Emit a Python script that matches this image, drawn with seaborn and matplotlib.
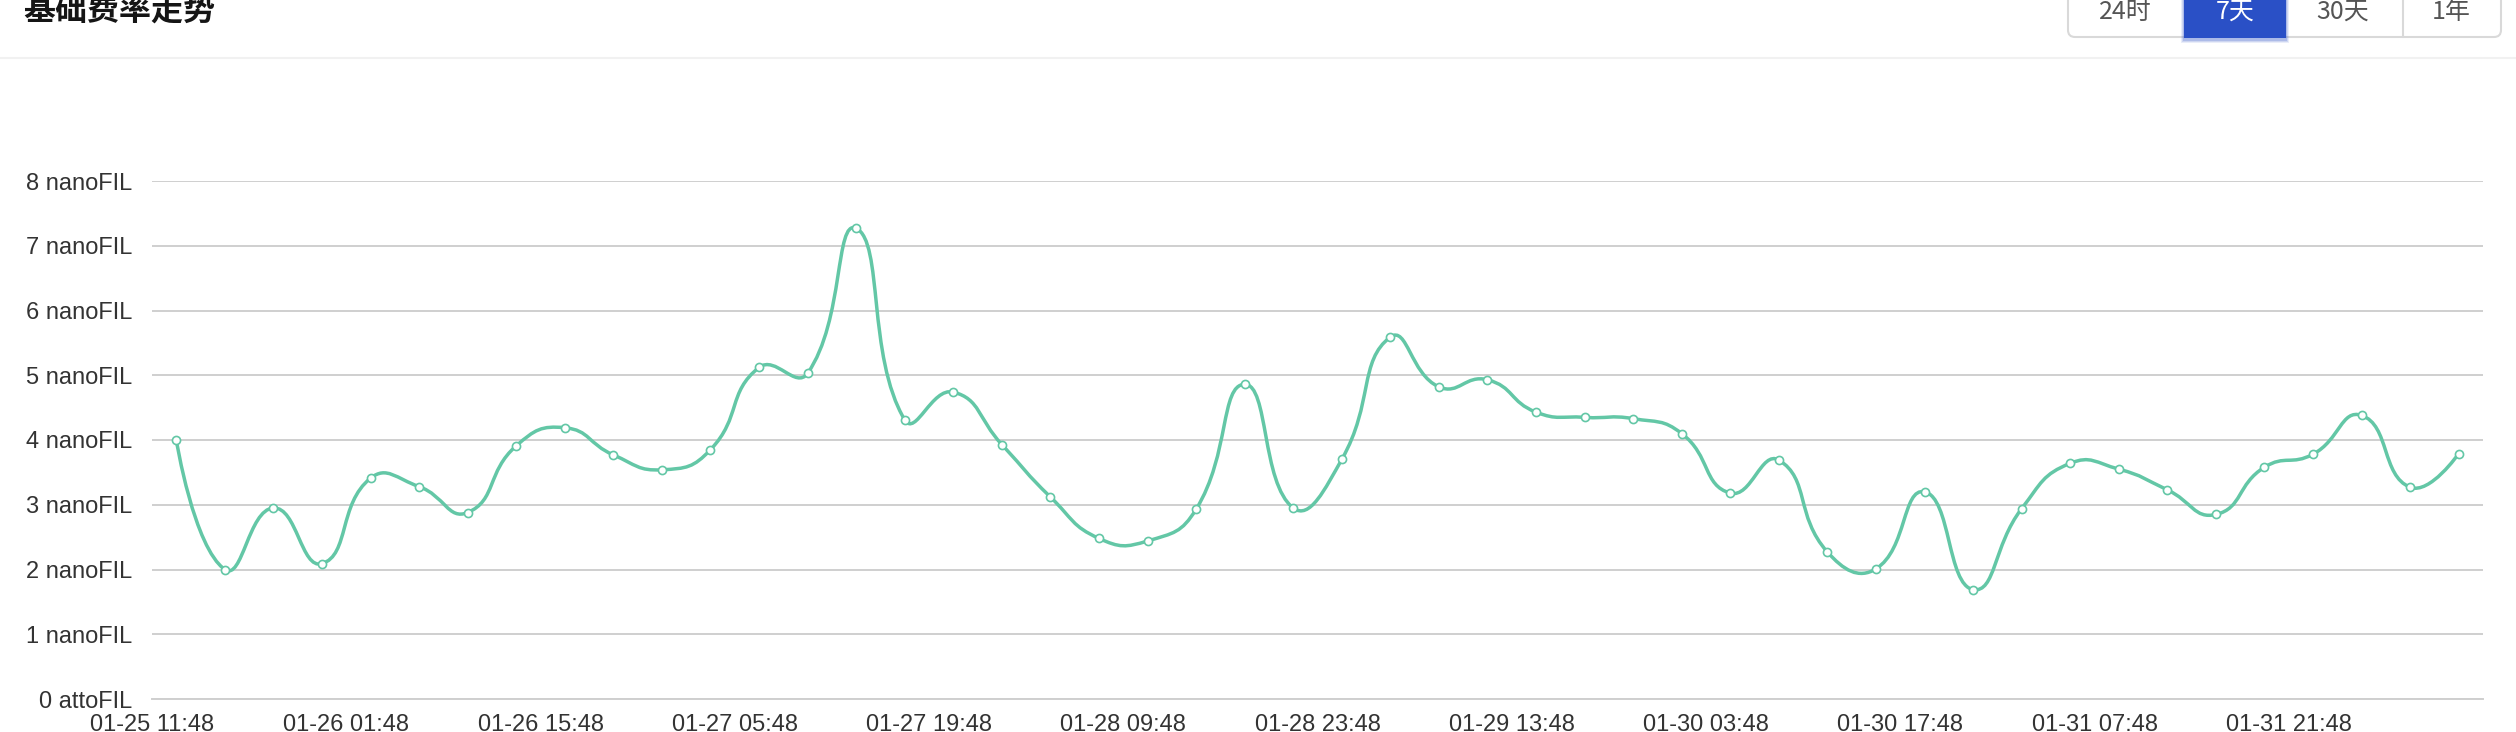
import numpy as np
import pandas as pd
import matplotlib
matplotlib.use("Agg")
import matplotlib.pyplot as plt
import seaborn as sns
from matplotlib.path import Path
from matplotlib.patches import PathPatch, FancyBboxPatch, Rectangle
from matplotlib.lines import Line2D
from matplotlib.transforms import IdentityTransform

# ---------------- data ----------------
title_text = "基础费率走势"
range_buttons = ["24时", "7天", "30天", "1年"]
active_button = "7天"

x_tick_labels = ["01-25 11:48", "01-26 01:48", "01-26 15:48", "01-27 05:48",
                 "01-27 19:48", "01-28 09:48", "01-28 23:48", "01-29 13:48",
                 "01-30 03:48", "01-30 17:48", "01-31 07:48", "01-31 21:48"]
y_tick_values = [0, 1, 2, 3, 4, 5, 6, 7, 8]
y_tick_labels = ["0 attoFIL", "1 nanoFIL", "2 nanoFIL", "3 nanoFIL", "4 nanoFIL",
                 "5 nanoFIL", "6 nanoFIL", "7 nanoFIL", "8 nanoFIL"]

# base fee (nanoFIL), one value every 3.5 hours
base_fee = [4.00, 2.00, 2.95, 2.09, 3.41, 3.28, 2.88, 3.91,
            4.19, 3.77, 3.54, 3.85, 5.12, 5.03, 7.27, 4.31,
            4.74, 3.93, 3.12, 2.48, 2.44, 2.93, 4.86, 2.95,
            3.70, 5.59, 4.82, 4.93, 4.43, 4.35, 4.33, 4.10,
            3.18, 3.69, 2.27, 2.01, 3.20, 1.69, 2.94, 3.64,
            3.55, 3.23, 2.85, 3.58, 3.78, 4.38, 3.27, 3.79]
step_hours = 3.5
tick_step_hours = 14

hours = (np.arange(len(base_fee)) + 0.5) * step_hours
df = pd.DataFrame({"hour": hours, "fee": base_fee})
total_hours = len(base_fee) * step_hours

# ---------------- style ----------------
W, H = 2516, 732
DPI = 100
GREEN = "#63c7a6"
BLUE = "#2a50c6"
GRID = "#cfcfcf"

sns.set_theme(style="white")
plt.rcParams["font.family"] = ["Liberation Sans", "Noto Sans CJK SC", "DejaVu Sans"]

fig = plt.figure(figsize=(W / DPI, H / DPI), dpi=DPI)
fig.patch.set_facecolor("white")

ax_left, ax_right, ax_top, ax_bottom = 152, 2483, 181, 699
ax = fig.add_axes([ax_left / W, (H - ax_bottom) / H,
                   (ax_right - ax_left) / W, (ax_bottom - ax_top) / H])
ax.set_xlim(0, total_hours)
ax.set_ylim(0, 8)

# smoothed line (ECharts-like bezier smoothing computed in pixel space)
sx = (ax_right - ax_left) / total_hours
sy = (ax_bottom - ax_top) / 8.0


def smooth_path(xs, ys, smooth=0.5):
    P = np.column_stack([np.asarray(xs) * sx, np.asarray(ys) * sy])
    n = len(P)
    verts = [P[0]]
    codes = [Path.MOVETO]
    cp0 = P[0].copy()
    for i in range(1, n):
        p = P[i]
        if i == n - 1:
            cp1 = p.copy()
            ncp0 = None
        else:
            prev, nxt = P[i - 1], P[i + 1]
            v = (nxt - prev) * smooth
            d0 = np.hypot(*(p - prev))
            d1 = np.hypot(*(nxt - p))
            r = d1 / (d0 + d1)
            cp1 = p - v * (1 - r)
            ncp0 = p + v * r
        verts += [cp0, cp1, p]
        codes += [Path.CURVE4] * 3
        cp0 = ncp0
    verts = np.array(verts) / np.array([sx, sy])
    return Path(verts, codes)


ax.add_patch(PathPatch(smooth_path(df["hour"], df["fee"]), facecolor="none",
                       edgecolor=GREEN, lw=2.5, zorder=2, capstyle="round",
                       joinstyle="round"))
sns.scatterplot(data=df, x="hour", y="fee", ax=ax, s=34, color="white",
                edgecolor=GREEN, linewidth=1.2, zorder=3, legend=False)

# axes styling
ax.set_yticks(y_tick_values)
ax.set_yticklabels(y_tick_labels)
xt = np.arange(0, total_hours + 0.1, tick_step_hours)
ax.set_xticks(xt)
ax.set_xticklabels(x_tick_labels + [""] * (len(xt) - len(x_tick_labels)))
ax.set_xlabel("")
ax.set_ylabel("")
ax.yaxis.grid(True, color=GRID, lw=1.4)
ax.xaxis.grid(False)
ax.set_axisbelow(True)
for s in ["top", "right", "left"]:
    ax.spines[s].set_visible(False)
ax.spines["bottom"].set_color(GRID)
ax.spines["bottom"].set_linewidth(1.4)
ax.tick_params(axis="y", length=0, pad=14, labelsize=17, labelcolor="#333333")
ax.tick_params(axis="x", length=7, width=1, color="#e3e3e3", direction="out",
               pad=4, labelsize=17, labelcolor="#333333")
ax.set_facecolor("white")

# ---------------- header ----------------
T = IdentityTransform()


def py(v):
    return H - v


fig.text(23 / W, 1 - 11 / H, title_text, fontsize=23, fontweight="bold",
         color="#151515", va="center", ha="left",
         family=["Noto Sans CJK SC", "DejaVu Sans"])

fig.add_artist(Line2D([0, W], [py(58), py(58)], transform=T, color="#f1f1f1", lw=1.5))

# button group
bx0, bx1 = 2068, 2501
fig.add_artist(FancyBboxPatch((bx0, py(37)), bx1 - bx0, 60,
                              boxstyle="round,pad=0,rounding_size=7",
                              transform=T, facecolor="white",
                              edgecolor="#d9d9d9", lw=1.5))
fig.add_artist(Line2D([2403, 2403], [py(37), py(-5)], transform=T, color="#d9d9d9", lw=1.5))
# active button with soft shadow
for k, a in enumerate([0.10, 0.14, 0.20]):
    grow = 3 - k
    fig.add_artist(Rectangle((2184 - grow, py(38 + grow + 2)), 102 + 2 * grow, 60,
                             transform=T, facecolor=BLUE, alpha=a, lw=0))
fig.add_artist(Rectangle((2184, py(38)), 102, 60, transform=T,
                         facecolor=BLUE, lw=0))
btn_centers = [2125, 2235, 2343, 2451]
for lab, cx in zip(range_buttons, btn_centers):
    fig.text(cx / W, 1 - 12 / H, lab, fontsize=18, ha="center", va="center",
             color="white" if lab == active_button else "#555555",
             family=["Noto Sans CJK SC", "DejaVu Sans"])

fig.savefig("out.png", dpi=DPI, facecolor="white")
